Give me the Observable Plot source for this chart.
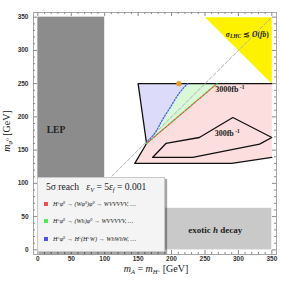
<!DOCTYPE html>
<html><head><meta charset="utf-8">
<script src="https://cdn.jsdelivr.net/npm/d3@7"></script>
<script src="https://cdn.jsdelivr.net/npm/@observablehq/plot@0.6"></script>
<style>
body{margin:0;background:#fff;}
#wrap{position:relative;width:289px;height:284px;}
#legend{position:absolute;left:37px;top:177px;width:126px;height:73px;background:#f4f4f4;border:1px solid #c8c8c8;box-shadow:2px 2px 1px rgba(0,0,0,.35);font-family:"Liberation Serif",serif;color:#222;}
#legend .title{position:absolute;left:8px;top:3px;font-size:9.6px;white-space:nowrap;}
#legend .sw{position:absolute;left:6px;width:4px;height:4px;}
#legend .ent{position:absolute;left:15px;font-size:6.2px;white-space:nowrap;line-height:6px;font-style:italic;}
#legend sup{font-size:4px;vertical-align:2px;line-height:0;}
#legend sub{font-size:6.4px;vertical-align:-2px;line-height:0;}
</style></head>
<body><div id="wrap"></div>
<script>
// ---- data ----
const majorTicks = [0, 50, 100, 150, 200, 250, 300, 350];
const minorTicks = d3.range(0, 351, 10).filter(v => v % 50 !== 0);
const lepBox = [{x1: 0, x2: 100, y1: 0, y2: 350}];
const exoticBox = [{x1: 0, x2: 350, y1: 0, y2: 62.5}];
const lhcX = [250, 350, 350];
const lhcY = [350, 350, 250];
const reachX = [150, 350, 350, 290, 145, 162.6];
const reachY = [250, 250, 139, 130, 130, 160];
const reachEdgeX = [350, 290, 145, 162.6, 150, 350];
const reachEdgeY = [139, 130, 130, 160, 250, 250];
const lumi300X = [171.6, 191.6, 241.6, 291.7, 350, 331.7, 231.7];
const lumi300Y = [139, 160, 169, 199, 169, 159, 139];
const blueX = [162.6, 166, 176, 186, 198.5, 211, 224];
const blueY = [160, 165, 177, 195, 215, 235, 250];
const redX = [162.6, 268];
const redY = [160, 250];
const diagX = [0, 350];
const diagY = [0, 350];
const benchX = [211];
const benchY = [250];

const xDomain = [-6.5, 357], yDomain = [-7, 357];
const pts = (xs, ys) => xs.map((x, i) => ({x, y: ys[i]}));
const bluePoly = pts([150, ...blueX], [250, ...blueY]);
const greenPoly = pts([...blueX, ...redX.slice().reverse()], [...blueY, ...redY.slice().reverse()]);
const tickCol = "#8a8a8a";

const plot = Plot.plot({
  width: 289, height: 284,
  marginLeft: 33, marginRight: 13, marginTop: 12, marginBottom: 30,
  x: {domain: xDomain}, y: {domain: yDomain},
  style: {fontFamily: "Liberation Sans, Arial, sans-serif", fontSize: "6.5px", color: "#333", background: "#fff"},
  marks: [
    Plot.rect(exoticBox, {x1: "x1", x2: "x2", y1: "y1", y2: "y2", fill: "#c9c9c9"}),
    Plot.rect(lepBox, {x1: "x1", x2: "x2", y1: "y1", y2: "y2", fill: "#8c8c8c"}),
    Plot.line(pts(lhcX, lhcY), {x: "x", y: "y", fill: "#fff200", stroke: "none", curve: "linear-closed"}),
    Plot.line(pts(reachX, reachY), {x: "x", y: "y", fill: "#fddede", stroke: "none", curve: "linear-closed"}),
    Plot.line(bluePoly, {x: "x", y: "y", fill: "#dcdcfa", stroke: "none", curve: "linear-closed"}),
    Plot.line(greenPoly, {x: "x", y: "y", fill: "#d8f8d8", stroke: "none", curve: "linear-closed"}),
    Plot.line(pts(lumi300X, lumi300Y), {x: "x", y: "y", stroke: "#111", strokeWidth: 1.3, curve: "linear-closed"}),
    Plot.line(pts(reachEdgeX, reachEdgeY), {x: "x", y: "y", stroke: "#111", strokeWidth: 1.3}),
    Plot.line(pts(diagX, diagY), {x: "x", y: "y", stroke: "#b0b0b0", strokeWidth: 1, strokeDasharray: "3.5,2"}),
    Plot.line(pts(blueX, blueY), {x: "x", y: "y", stroke: "#4a5cf0", strokeWidth: 1.3, strokeDasharray: "1.3,1.7", curve: "natural"}),
    Plot.line(pts(redX, redY), {x: "x", y: "y", stroke: "#3ddc3d", strokeWidth: 1.3, strokeDasharray: "1.3,2.5"}),
    Plot.line(pts(redX, redY), {x: "x", y: "y", stroke: "#f05050", strokeWidth: 1.3, strokeDasharray: "1.3,2.5", strokeDashoffset: 1.9}),
    Plot.dot(pts(benchX, benchY), {x: "x", y: "y", r: 2.6, fill: "#e89a2c", stroke: "none"}),
    Plot.frame({stroke: "#a8a8a8"}),
    Plot.ruleX(majorTicks, {x: d => d, y1: yDomain[0], y2: yDomain[0] + 6, stroke: tickCol}),
    Plot.ruleX(majorTicks, {x: d => d, y1: yDomain[1], y2: yDomain[1] - 6, stroke: tickCol}),
    Plot.ruleY(majorTicks, {y: d => d, x1: xDomain[0], x2: xDomain[0] + 6, stroke: tickCol}),
    Plot.ruleY(majorTicks, {y: d => d, x1: xDomain[1], x2: xDomain[1] - 6, stroke: tickCol}),
    Plot.ruleX(minorTicks, {x: d => d, y1: yDomain[0], y2: yDomain[0] + 3, stroke: tickCol}),
    Plot.ruleX(minorTicks, {x: d => d, y1: yDomain[1], y2: yDomain[1] - 3, stroke: tickCol}),
    Plot.ruleY(minorTicks, {y: d => d, x1: xDomain[0], x2: xDomain[0] + 3, stroke: tickCol}),
    Plot.ruleY(minorTicks, {y: d => d, x1: xDomain[1], x2: xDomain[1] - 3, stroke: tickCol}),
    Plot.axisX({ticks: majorTicks, tickSize: 0, tickPadding: 2, label: null, fontWeight: "bold", fontSize: 6.5}),
    Plot.axisY({ticks: majorTicks, tickSize: 0, tickPadding: 5, label: null, fontWeight: "bold", fontSize: 6.5})
  ]
});
document.getElementById("wrap").appendChild(plot);

// ---- rich text annotations placed through the plot's scales ----
const sx = plot.scale("x"), sy = plot.scale("y");
const svg = d3.select(plot);
const serif = "Liberation Serif, Times New Roman, serif";
function rich(x, y, parts, size, anchor, extra) {
  const t = svg.append("text").attr("x", x).attr("y", y).attr("text-anchor", anchor || "middle")
    .attr("font-family", serif).attr("font-size", size).attr("fill", "#222");
  if (extra) extra(t);
  parts.forEach(p => {
    const s = t.append("tspan").text(p.t);
    if (p.i) s.attr("font-style", "italic");
    if (p.b) s.attr("font-weight", "bold");
    if (p.fs) s.attr("font-size", p.fs);
    if (p.dy) s.attr("dy", p.dy);
  });
  return t;
}
// region labels
rich(sx.apply(14), sy.apply(175), [{t: "LEP", b: 1}], 9.5, "start");
rich(sx.apply(266), sy.apply(25), [{t: "exotic ", b: 1}, {t: "h", i: 1, b: 1}, {t: " decay", b: 1}], 9, "middle");
rich(sx.apply(314), sy.apply(320), [{t: "σ", i: 1, b: 1}, {t: "LHC", i: 1, b: 1, fs: 5.5, dy: 1.5}, {t: " ≲ ", b: 1, dy: -1.5}, {t: "O", i: 1, b: 1}, {t: "(", b: 1}, {t: "fb", i: 1, b: 1}, {t: ")", b: 1}], 7.5, "middle");
rich(sx.apply(288), sy.apply(236), [{t: "3000", b: 1}, {t: "fb", b: 1}, {t: " -1", b: 1, fs: 5.5, dy: -3}], 8, "middle");
rich(sx.apply(284), sy.apply(170), [{t: "300", b: 1}, {t: "fb", b: 1}, {t: " -1", b: 1, fs: 5.5, dy: -3}], 8, "middle");
// axis titles
rich(156, 272, [{t: "m", i: 1}, {t: "A", i: 1, fs: 6.5, dy: 2}, {t: " = ", dy: -2}, {t: "m", i: 1}, {t: "H", i: 1, fs: 6.5, dy: 2}, {t: "±", fs: 5, dy: -2}, {t: " [GeV]", dy: 0}], 10, "middle");
rich(0, 0, [{t: "m", i: 1}, {t: "φ", i: 1, fs: 6.5, dy: 2}, {t: "0", fs: 5, dy: -3}, {t: " [GeV]", dy: 1}], 10, "middle",
  t => t.attr("transform", "translate(10,131) rotate(-90)"));

// ---- legend ----
const legendTitle = '5σ reach&nbsp;&nbsp;&nbsp;<i>ε<sub>V</sub></i> = 5<i>ε<sub>f</sub></i> = 0.001';
const legendColors = ["#f05050", "#50ee50", "#5050f0"];
const legendLabels = [
  'H<sup>±</sup>φ<sup>0</sup> → (Wφ<sup>0</sup>)φ<sup>0</sup> → WVVVVV, …',
  'H<sup>±</sup>φ<sup>0</sup> → (Wh)φ<sup>0</sup> → WVVVVV, …',
  'H<sup>±</sup>φ<sup>0</sup> → H<sup>±</sup>(H<sup>±</sup>W) → WhWhW, …'
];
const legendTops = [24, 41, 59];
const lg = document.createElement("div");
lg.id = "legend";
let html = `<div class="title">${legendTitle}</div>`;
legendLabels.forEach((l, i) => {
  html += `<div class="sw" style="top:${legendTops[i]}px;background:${legendColors[i]}"></div>`;
  html += `<div class="ent" style="top:${legendTops[i] - 1}px">${l}</div>`;
});
lg.innerHTML = html;
document.getElementById("wrap").appendChild(lg);
</script></body></html>
